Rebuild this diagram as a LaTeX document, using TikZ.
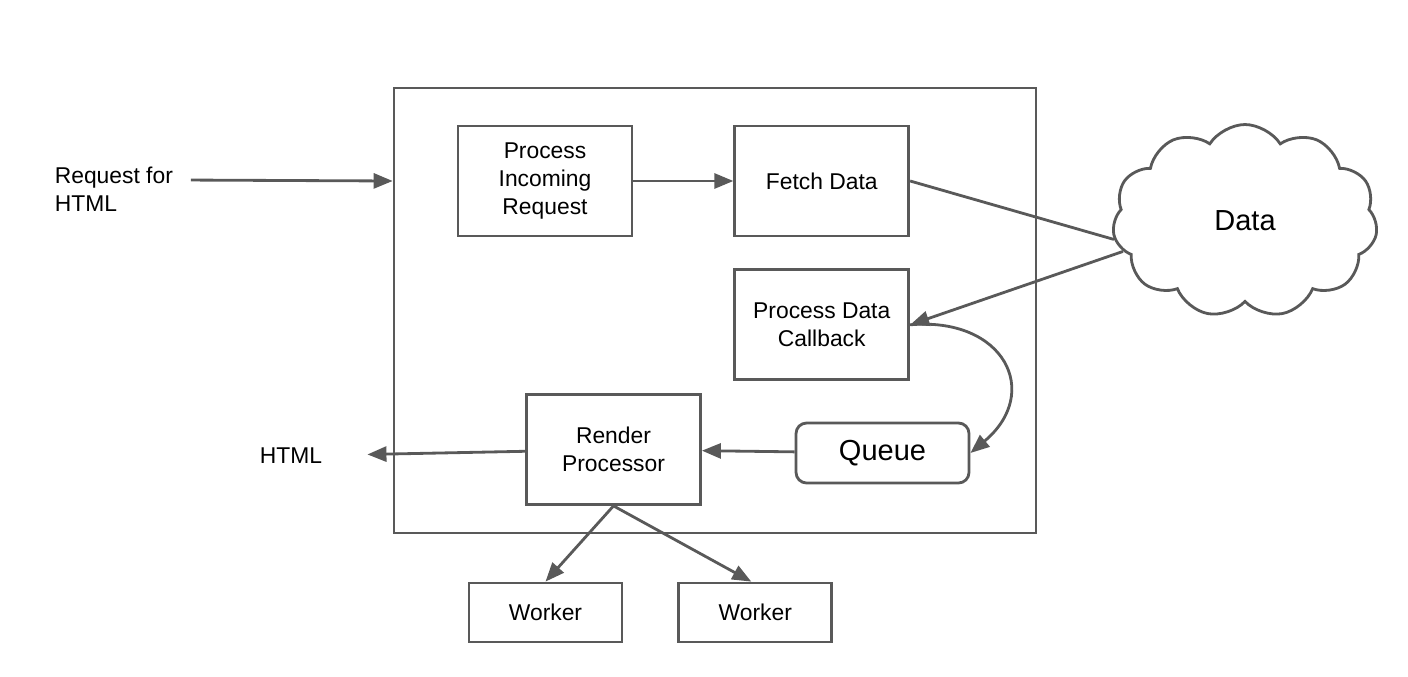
\documentclass[tikz,border=0pt]{standalone}
\usepackage{fontspec}
\setmainfont{Liberation Sans}
\usepackage{tikz}
\usetikzlibrary{arrows.meta,positioning,calc,shapes.symbols}
\definecolor{linegray}{HTML}{595959}
\tikzset{
    diagramblock/.style={draw=linegray, line width=1.6pt, align=center, font=\fontsize{13}{16}\selectfont, minimum width=3.48cm, minimum height=2.2cm, inner sep=0pt},
    diagramsmall/.style={draw=linegray, line width=1.6pt, align=center, font=\fontsize{13}{16}\selectfont, minimum width=3.06cm, minimum height=1.18cm, inner sep=0pt},
    diagramqueue/.style={draw=linegray, line width=1.6pt, rounded corners=6pt, font=\fontsize{16.5}{19}\selectfont, minimum width=3.46cm, minimum height=1.2cm, inner sep=0pt},
    diagramcloud/.style={cloud, draw=linegray, line width=1.6pt, cloud puffs=11, cloud puff arc=115, cloud ignores aspect, font=\fontsize{16.5}{19}\selectfont, minimum width=5.3cm, minimum height=3.86cm},
    diagramarrow/.style={-{Triangle[length=3.8mm,width=3mm]}, line width=1.6pt, draw=linegray},
    diagramline/.style={line width=1.6pt, draw=linegray},
    diagramnote/.style={align=left, font=\fontsize{13}{16}\selectfont}
}

\begin{document}
\begin{tikzpicture}[x=0.02cm, y=-0.02cm]
        \useasboundingbox (0,0) rectangle (1408,676);
        % outer server box
        \node[draw=linegray, line width=1.6pt, minimum width=12.84cm, minimum height=8.9cm, inner sep=0pt] (server) at (715,310.5) {};
        \node[diagramblock] (incoming) at (545,181) {Process\\Incoming\\Request};
        \node[diagramblock, right=2.0cm of incoming] (fetch) {Fetch Data};
        \node[diagramblock, below=0.62cm of fetch] (callback) {Process Data\\Callback};
        \node[diagramblock] (render) at (613.5,449.5) {Render\\Processor};
        \node[diagramqueue] (queue) at (882.5,453) {Queue};
        \node[diagramsmall] (worker1) at (545.5,612.5) {Worker};
        \node[diagramsmall, right=1.08cm of worker1] (worker2) {Worker};
        \node[diagramcloud] (data) at (1245,221) {Data};
        \node[diagramnote, anchor=west, inner xsep=0.15cm] (request) at (47,189) {Request for\\HTML};
        \node[diagramnote, inner xsep=0.9cm] (html) at (291,456) {HTML};
        % connectors
        \draw[diagramarrow, shorten <=0.2cm] ($(request.east)+(0,-9)$) -- (server.west |- fetch.center);
        \draw[diagramarrow] (incoming) -- (fetch);
        \draw[diagramline] (fetch.east) -- (data.188);
        \draw[diagramarrow] (data.194) -- (callback.east);
        \draw[diagramarrow] (callback.east) to[out=5, in=40, looseness=1.7] (queue.east);
        \draw[diagramarrow] (queue) -- (render);
        \draw[diagramarrow] (render) -- (html);
        \draw[diagramarrow] (render.south) -- (worker1.north);
        \draw[diagramarrow] (render.south) -- ($(worker2.north)+(-4,0)$);
    \end{tikzpicture}
\end{document}
